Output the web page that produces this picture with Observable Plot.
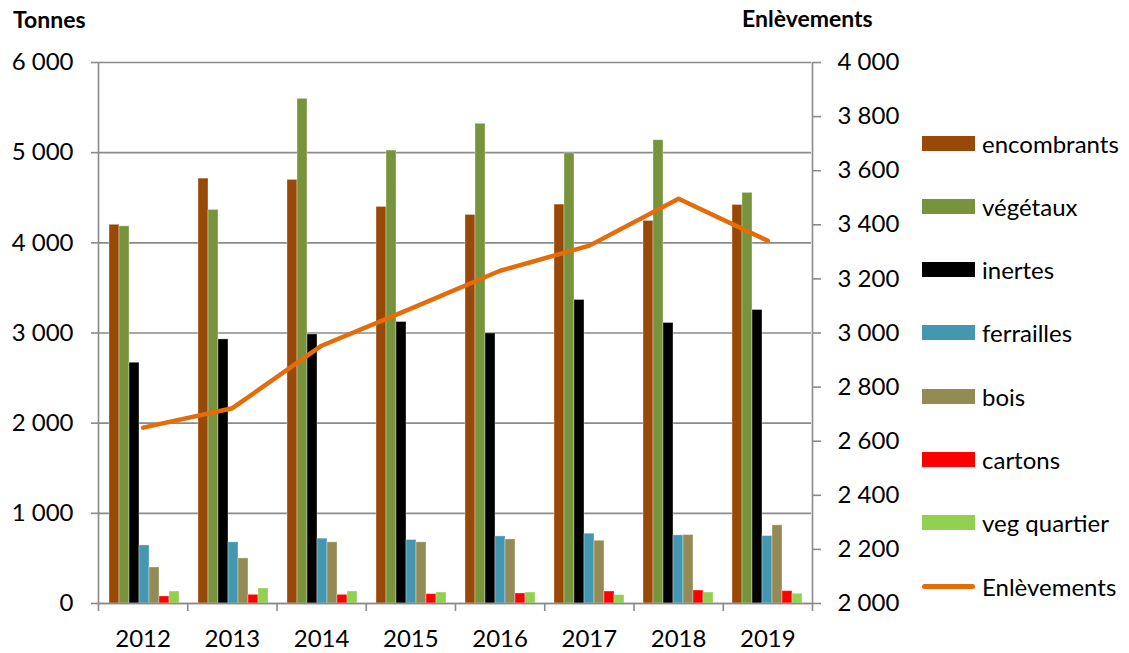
<!DOCTYPE html>
<html><head><meta charset="utf-8">
<script src="https://cdn.jsdelivr.net/npm/d3@7"></script>
<script src="https://cdn.jsdelivr.net/npm/@observablehq/plot@0.6"></script>
<style>
body{margin:0;background:#fff;}
#chart{position:relative;width:1129px;height:653px;font-family:Lato,sans-serif;color:#000;overflow:hidden;}
#chart svg{position:absolute;left:0;top:0;}
.ttl{position:absolute;font-weight:bold;font-size:23px;line-height:1;white-space:nowrap;}
.leg{position:absolute;left:922px;height:30px;display:flex;align-items:center;font-size:24px;white-space:nowrap;}
.sw{width:53px;height:15px;margin-right:7px;}
.ln{width:53px;height:5px;border-radius:3px;margin-right:7px;}
</style></head><body><div id="chart"></div>
<script>
const years = ["2012","2013","2014","2015","2016","2017","2018","2019"];
const seriesNames = ["encombrants","végétaux","inertes","ferrailles","bois","cartons","veg quartier"];
const encombrants = [4200,4712,4698,4398,4309,4424,4243,4420];
const vegetaux    = [4183,4365,5597,5023,5320,4993,5138,4554];
const inertes     = [2670,2929,2984,3122,2995,3366,3111,3255];
const ferrailles  = [644,678,719,704,744,774,756,748];
const bois        = [400,500,678,678,711,696,759,867];
const cartons     = [78,96,96,104,111,133,144,137];
const vegQuartier = [133,167,133,122,122,93,122,108];
const enlevements = [2650,2722,2953,3090,3230,3323,3496,3341];
const lineName = "Enlèvements";
const leftTicks = [0,1000,2000,3000,4000,5000,6000];
const rightTicks = [2000,2200,2400,2600,2800,3000,3200,3400,3600,3800,4000];
const colors = ["#984807","#77933C","#000000","#4397B0","#948A54","#FF0000","#92D050"];
const lineColor = "#E46C0A";
const gridColor = "#8a8a8a";

const seriesValues = [encombrants, vegetaux, inertes, ferrailles, bois, cartons, vegQuartier];
const rows = years.flatMap((yr, i) => seriesNames.map((s, j) => ({year: yr, series: s, value: seriesValues[j][i]})));
const lineRows = years.map((yr, i) => ({idx: i + 0.5, value: enlevements[i]}));

const fmt = d3.formatLocale({decimal: ",", thousands: " ", grouping: [3], currency: ["", " €"]}).format(",");

const W = 1129, H = 653;
const M = {marginLeft: 98, marginRight: 317, marginTop: 62, marginBottom: 50};
const baseStyle = {fontFamily: "Lato, sans-serif", fontSize: "24px", color: "#000", background: "transparent", overflow: "visible"};

const bars = Plot.plot({
  width: W, height: H, ...M,
  style: baseStyle,
  fx: {domain: years, padding: 0, axis: null, label: null},
  x: {domain: seriesNames, paddingInner: 0, paddingOuter: 0.8, axis: null, label: null},
  y: {domain: [0, 6000], axis: null, label: null},
  color: {domain: seriesNames, range: colors},
  marks: [
    Plot.gridY(leftTicks, {stroke: gridColor, strokeOpacity: 1, strokeWidth: 1.6}),
    Plot.axisY({anchor: "left", label: null, ticks: leftTicks, tickSize: 8, tickPadding: 18, tickFormat: fmt, stroke: gridColor, strokeWidth: 1.6, fill: "#000"}),
    Plot.barY(rows, {fx: "year", x: "series", y: "value", fill: "series", stroke: "#fff", strokeOpacity: 0.35, strokeWidth: 1})
  ]
});

const overlay = Plot.plot({
  width: W, height: H, ...M,
  style: baseStyle,
  x: {domain: [0, years.length], axis: null, label: null},
  y: {domain: [2000, 4000], axis: null, label: null},
  marks: [
    Plot.ruleX([0, years.length], {stroke: gridColor, strokeWidth: 1.6}),
    Plot.ruleY([2000], {stroke: gridColor, strokeWidth: 1.6}),
    Plot.axisY({anchor: "right", label: null, ticks: rightTicks, tickSize: 8, tickPadding: 17, tickFormat: fmt, stroke: gridColor, strokeWidth: 1.6, fill: "#000"}),
    Plot.axisX({anchor: "bottom", label: null, ticks: d3.range(years.length + 1), tickSize: 8, tickFormat: () => "", stroke: gridColor, strokeWidth: 1.6}),
    Plot.axisX({anchor: "bottom", label: null, ticks: d3.range(years.length).map(i => i + 0.5), tickSize: 0, tickPadding: 26, tickFormat: d => years[Math.floor(d)], fill: "#000"}),
    Plot.line(lineRows, {x: "idx", y: "value", stroke: lineColor, strokeWidth: 4.5, strokeLinecap: "round", strokeLinejoin: "round"})
  ]
});

const root = document.getElementById("chart");
root.appendChild(bars);
root.appendChild(overlay);

function addDiv(cls, text, css) {
  const d = document.createElement("div");
  d.className = cls;
  if (text) d.textContent = text;
  Object.assign(d.style, css);
  root.appendChild(d);
  return d;
}
addDiv("ttl", "Tonnes", {left: "13px", top: "8px"});
addDiv("ttl", lineName, {left: "742px", top: "7px"});

const legendItems = seriesNames.map((s, j) => ({name: s, color: colors[j], line: false}))
  .concat([{name: lineName, color: lineColor, line: true}]);
legendItems.forEach((it, k) => {
  const row = addDiv("leg", null, {top: (143 + 63.3 * k - 15) + "px"});
  const sw = document.createElement("div");
  sw.className = it.line ? "ln" : "sw";
  sw.style.background = it.color;
  row.appendChild(sw);
  const t = document.createElement("span");
  t.textContent = it.name;
  row.appendChild(t);
});
</script>
</body></html>
